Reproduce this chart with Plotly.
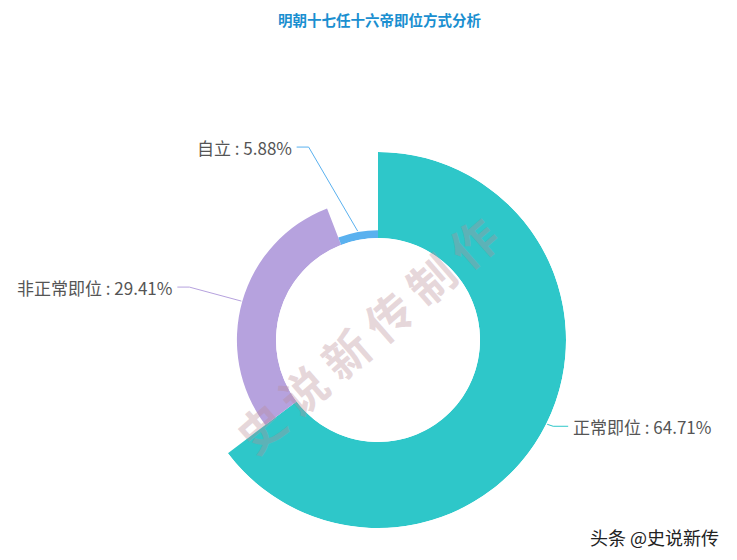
import plotly.graph_objects as go
import math

title = "明朝十七任十六帝即位方式分析"
categories = ["正常即位", "非正常即位", "自立"]
values = [64.71, 29.41, 5.88]
colors = ["#2ec7c9", "#b6a2de", "#5ab1ef"]
watermark = "史 说 新 传 制 作"
signature = "头条 @史说新传"

W, H = 737, 560
OFF = 8                 # page body margin
CX, CY = 378 - OFF, 340 - OFF   # pie centre in figure px
R_OUT, R_IN = 188, 102  # outer radius of largest slice, inner hole radius

total = sum(values)
widths = [v / total * 360 for v in values]
centers = []
acc = 0
for w in widths:
    centers.append(acc + w / 2)
    acc += w

fig = go.Figure(go.Barpolar(
    r=values, theta=centers, width=widths,
    marker=dict(color=colors, line=dict(width=0)),
    text=categories, hoverinfo="text",
))

fig.update_layout(
    width=W, height=H, margin=dict(l=0, r=0, t=0, b=0),
    paper_bgcolor="white", plot_bgcolor="white", showlegend=False,
    font=dict(family="Noto Sans CJK SC, sans-serif"),
    polar=dict(
        domain=dict(x=[(CX - R_OUT) / W, (CX + R_OUT) / W],
                    y=[(H - CY - R_OUT) / H, (H - CY + R_OUT) / H]),
        hole=R_IN / R_OUT, bgcolor="white",
        angularaxis=dict(rotation=90, direction="clockwise", visible=False),
        radialaxis=dict(range=[0, max(values)], visible=False),
    ),
)

def px(x, y):
    return x / W, 1 - y / H

# label leader-line layout: (elbow dx, elbow dy, horizontal length, side)
label_layout = [
    (6, 2, 15, 1),
    (-52, -14, 12, -1),
    (-49, -84, 12, -1),
]
shapes = []
annotations = []
vmax = max(values)
for cat, v, c, ang, (edx, edy, hl, side) in zip(categories, values, colors, centers, label_layout):
    rad = R_IN + v / vmax * (R_OUT - R_IN) + 1
    a = math.radians(ang)
    ax, ay = CX + rad * math.sin(a), CY - rad * math.cos(a)
    ex, ey = ax + edx, ay + edy
    tx, ty = ex + side * hl, ey
    for (x0, y0, x1, y1) in [(ax, ay, ex, ey), (ex, ey, tx, ty)]:
        p0, p1 = px(x0, y0), px(x1, y1)
        shapes.append(dict(type="line", xref="paper", yref="paper",
                           x0=p0[0], y0=p0[1], x1=p1[0], y1=p1[1],
                           line=dict(color=c, width=1)))
    pt = px(tx + side * 3, ty)
    annotations.append(dict(text=f"{cat} : {v:.2f}%", xref="paper", yref="paper",
                            x=pt[0], y=pt[1], showarrow=False,
                            xanchor="left" if side > 0 else "right", yanchor="middle",
                            font=dict(size=17, color="#555555")))

t = px(379 - OFF, 0)
annotations.append(dict(text=f"<b>{title}</b>", xref="paper", yref="paper", x=t[0], y=t[1],
                        showarrow=False, xanchor="center", yanchor="top", borderpad=0,
                        font=dict(size=14.5, color="#1a8fd0")))
wm = px(366 - OFF, 334 - OFF)
annotations.append(dict(text=f"<b>{watermark}</b>", xref="paper", yref="paper", x=wm[0], y=wm[1],
                        showarrow=False, textangle=-41, xanchor="center", yanchor="middle",
                        font=dict(size=46, color="rgba(185,140,150,0.35)")))
sg = px(654 - OFF, 537 - OFF)
annotations.append(dict(text=signature, xref="paper", yref="paper", x=sg[0], y=sg[1],
                        showarrow=False, xanchor="center", yanchor="middle",
                        font=dict(size=18, color="#222222")))

fig.update_layout(shapes=shapes, annotations=annotations)
fig.write_html("out.html")
